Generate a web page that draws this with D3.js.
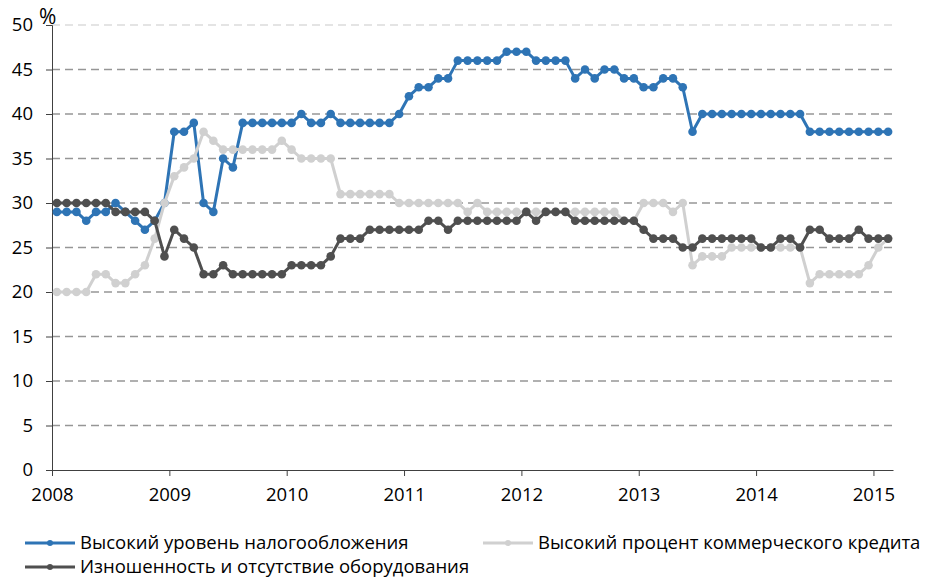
<!DOCTYPE html>
<html><head><meta charset="utf-8">
<script src="https://cdn.jsdelivr.net/npm/d3@7"></script>
<style>
body{margin:0;background:#fff;}
text{font-family:"Open Sans",sans-serif;fill:#000;}
</style></head>
<body><svg id="c" width="926" height="578"></svg>
<script>
const startYear = 2008;
const yearTicks = [2008, 2009, 2010, 2011, 2012, 2013, 2014, 2015];
const yTicks = [0, 5, 10, 15, 20, 25, 30, 35, 40, 45, 50];
const seriesNames = ["Высокий уровень налогообложения", "Высокий процент коммерческого кредита", "Изношенность и отсутствие оборудования"];
const taxValues = [
 29,29,29,28,29,29,30,29,28,27,28,30,
 38,38,39,30,29,35,34,39,39,39,39,39,
 39,40,39,39,40,39,39,39,39,39,39,40,
 42,43,43,44,44,46,46,46,46,46,47,47,
 47,46,46,46,46,44,45,44,45,45,44,44,
 43,43,44,44,43,38,40,40,40,40,40,40,
 40,40,40,40,40,38,38,38,38,38,38,38,
 38,38];
const creditValues = [
 20,20,20,20,22,22,21,21,22,23,26,30,
 33,34,35,38,37,36,36,36,36,36,36,37,
 36,35,35,35,35,31,31,31,31,31,31,30,
 30,30,30,30,30,30,29,30,29,29,29,29,
 29,29,29,29,29,29,29,29,29,29,28,28,
 30,30,30,29,30,23,24,24,24,25,25,25,
 25,25,25,25,25,21,22,22,22,22,22,23,
 25,26];
const equipValues = [
 30,30,30,30,30,30,29,29,29,29,28,24,
 27,26,25,22,22,23,22,22,22,22,22,22,
 23,23,23,23,24,26,26,26,27,27,27,27,
 27,27,28,28,27,28,28,28,28,28,28,28,
 29,28,29,29,29,28,28,28,28,28,28,28,
 27,26,26,26,25,25,26,26,26,26,26,26,
 25,25,26,26,25,27,27,26,26,26,27,26,
 26,26];
const colors = ["#2E74B5", "#D0D0D0", "#4F4F4F"];

const svg = d3.select("#c");
const x = d3.scaleLinear().domain([2008, 2015 + 2/12]).range([52, 893]);
const y = d3.scaleLinear().domain([0, 50]).range([470, 25]);
const xOf = i => x(startYear + (i + 0.5) / 12);
const FS = "18.5px";

// gridlines
svg.append("g").selectAll("line").data(yTicks.filter(d => d > 0)).join("line")
  .attr("x1", 52).attr("x2", 893)
  .attr("y1", d => y(d)).attr("y2", d => y(d))
  .attr("stroke", d => d === 50 ? "#dcdcdc" : "#969696")
  .attr("stroke-width", 1.5)
  .attr("stroke-dasharray", "8,5");

// y axis
const yAxis = svg.append("g").attr("transform", "translate(52,0)")
  .call(d3.axisLeft(y).tickValues(yTicks).tickSize(6).tickPadding(13));
yAxis.select(".domain").attr("stroke", "#404040");
yAxis.selectAll(".tick line").attr("stroke", "#404040");
yAxis.selectAll("text").style("font-size", FS).style("font-family", "Open Sans");

// x axis
const xAxis = svg.append("g").attr("transform", "translate(0,470)")
  .call(d3.axisBottom(x).tickValues(yearTicks).tickFormat(d3.format("d")).tickSize(6).tickSizeOuter(0).tickPadding(12));
xAxis.select(".domain").attr("stroke", "#404040");
xAxis.selectAll(".tick line").attr("stroke", "#404040");
xAxis.selectAll("text").style("font-size", FS).style("font-family", "Open Sans");

svg.append("text").attr("x", 39).attr("y", 24).style("font-size", "21px").text("%");

const all = [taxValues, creditValues, equipValues];
const line = d3.line().x((d, i) => xOf(i)).y(d => y(d));
all.forEach((vals, k) => {
  const g = svg.append("g");
  g.append("path").datum(vals).attr("d", line)
    .attr("fill", "none").attr("stroke", colors[k]).attr("stroke-width", 3).attr("stroke-linejoin", "round");
  g.selectAll("circle").data(vals).join("circle")
    .attr("cx", (d, i) => xOf(i)).attr("cy", d => y(d)).attr("r", 4.3)
    .attr("fill", colors[k]);
});

// legend
const legendPos = [[25, 543], [483, 543], [25, 567]];
seriesNames.forEach((name, k) => {
  const [lx, ly] = legendPos[k];
  const g = svg.append("g");
  g.append("line").attr("x1", lx).attr("x2", lx + 50).attr("y1", ly).attr("y2", ly)
    .attr("stroke", colors[k]).attr("stroke-width", 3);
  g.append("circle").attr("cx", lx + 25).attr("cy", ly).attr("r", 3).attr("fill", colors[k]);
  g.append("text").attr("x", lx + 55).attr("y", ly + 6).style("font-size", FS).text(name);
});
</script></body></html>
